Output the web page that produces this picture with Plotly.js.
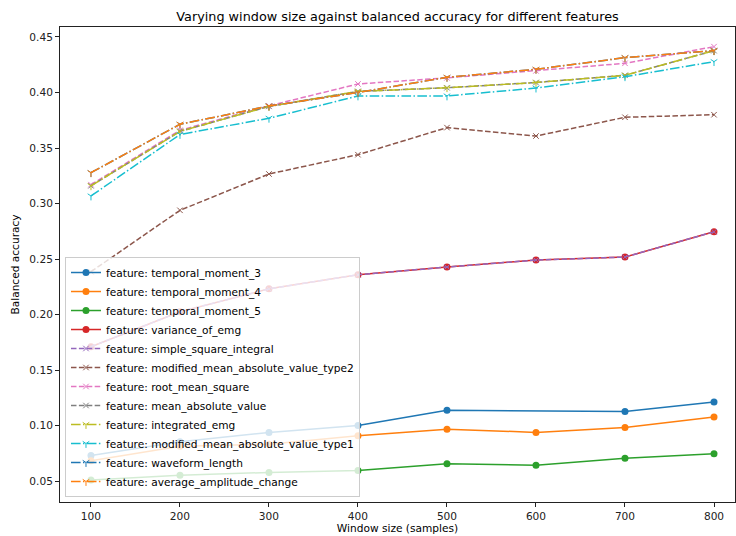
<!DOCTYPE html>
<html>
<head>
<meta charset="utf-8">
<script src="https://cdn.plot.ly/plotly-3.0.1.min.js"></script>
<style>html,body{margin:0;padding:0;background:#fff;}#chart{width:736px;height:536px;}</style>
</head>
<body>
<div id="chart"></div>
<script>
const windowSizes = [100, 200, 300, 400, 500, 600, 700, 800];

const featureNames = [
  "temporal_moment_3", "temporal_moment_4", "temporal_moment_5", "variance_of_emg",
  "simple_square_integral", "modified_mean_absolute_value_type2", "root_mean_square", "mean_absolute_value",
  "integrated_emg", "modified_mean_absolute_value_type1", "waveform_length", "average_amplitude_change"
];

const temporalMoment3 = [0.073, 0.0854, 0.0939, 0.1002, 0.1138, null, 0.1128, 0.1212];
const temporalMoment4 = [0.0683, 0.0815, 0.0833, 0.0908, 0.0968, 0.0939, 0.0984, 0.1077];
const temporalMoment5 = [0.0510, 0.0554, 0.0578, 0.0596, 0.0656, 0.0644, 0.0707, 0.0746];
const varianceOfEmg = [0.171, 0.2025, 0.2232, 0.2359, 0.2428, 0.2491, 0.2518, 0.2746];
const simpleSquareIntegral = [0.171, 0.2025, 0.2232, 0.2359, 0.2428, 0.2491, 0.2518, 0.2746];
const modifiedMav2 = [0.2386, 0.2939, 0.3266, 0.3440, 0.3684, 0.3608, 0.3777, 0.3800];
const rootMeanSquare = [0.3170, 0.3660, 0.3880, 0.4077, 0.4132, 0.4195, 0.4263, 0.4413];
const meanAbsoluteValue = [0.3160, 0.3650, 0.3875, 0.4010, 0.4043, 0.4090, 0.4155, 0.4377];
const integratedEmg = [0.3160, 0.3650, 0.3875, 0.4010, 0.4043, 0.4090, 0.4155, 0.4377];
const modifiedMav1 = [0.3068, 0.3622, 0.3768, 0.3969, 0.3969, 0.4040, 0.4142, 0.4278];
const waveformLength = [0.3278, 0.3714, 0.3878, 0.4000, 0.4137, 0.4209, 0.4314, 0.4377];
const averageAmplitudeChange = [0.3278, 0.3714, 0.3878, 0.4000, 0.4137, 0.4209, 0.4314, 0.4377];

const seriesValues = [
  temporalMoment3, temporalMoment4, temporalMoment5, varianceOfEmg,
  simpleSquareIntegral, modifiedMav2, rootMeanSquare, meanAbsoluteValue,
  integratedEmg, modifiedMav1, waveformLength, averageAmplitudeChange
];

const colors = ["#1f77b4", "#ff7f0e", "#2ca02c", "#d62728", "#9467bd", "#8c564b",
                "#e377c2", "#7f7f7f", "#bcbd22", "#17becf", "#1f77b4", "#ff7f0e"];
const dashes = ["solid", "solid", "solid", "solid",
                "5.5px,2.4px", "5.5px,2.4px", "5.5px,2.4px", "5.5px,2.4px",
                "9.6px,2.4px,1.5px,2.4px", "9.6px,2.4px,1.5px,2.4px", "9.6px,2.4px,1.5px,2.4px", "9.6px,2.4px,1.5px,2.4px"];
const symbols = ["circle", "circle", "circle", "circle",
                 "x-thin-open", "x-thin-open", "x-thin-open", "x-thin-open",
                 "y-down-open", "y-down-open", "y-down-open", "y-down-open"];

const traces = featureNames.map((name, i) => ({
  x: windowSizes,
  y: seriesValues[i],
  name: "feature: " + name,
  type: "scatter",
  mode: "lines+markers",
  connectgaps: true,
  line: {color: colors[i], width: 1.5, dash: dashes[i]},
  marker: {
    color: colors[i],
    symbol: symbols[i],
    size: i < 4 ? 7 : 5.5,
    line: {color: colors[i], width: i < 4 ? 0 : 1}
  }
}));

const baseFont = 10.6;
const layout = {
  width: 736, height: 536,
  margin: {l: 60, r: 1, t: 27, b: 34},
  paper_bgcolor: "#fff", plot_bgcolor: "#fff",
  font: {family: "DejaVu Sans", size: baseFont, color: "#000"},
  title: {text: "Varying window size against balanced accuracy for different features",
          font: {family: "DejaVu Sans", size: 12.8, color: "#000"},
          x: 0.5, xref: "paper", xanchor: "center", y: 0.970, yref: "container", yanchor: "middle"},
  xaxis: {
    range: [65.2, 823.6], tickvals: windowSizes, ticktext: windowSizes.map(String),
    showgrid: false, zeroline: false, showline: true, linecolor: "#222", linewidth: 1, mirror: true,
    ticks: "outside", ticklen: 4, tickcolor: "#222", tickfont: {size: baseFont, color: "#222"},
    title: {text: "Window size (samples)", font: {size: baseFont}, standoff: 3}
  },
  yaxis: {
    range: [0.0312, 0.459], tickvals: [0.05, 0.10, 0.15, 0.20, 0.25, 0.30, 0.35, 0.40, 0.45],
    tickformat: ".2f",
    showgrid: false, zeroline: false, showline: true, linecolor: "#222", linewidth: 1, mirror: true,
    ticks: "outside", ticklen: 4, tickcolor: "#222", tickfont: {size: baseFont, color: "#222"},
    title: {text: "Balanced accuracy", font: {size: baseFont}, standoff: 7}
  },
  legend: {
    x: 0.0074, y: 0.0105, xanchor: "left", yanchor: "bottom",
    bgcolor: "rgba(255,255,255,0.8)", bordercolor: "#cccccc", borderwidth: 1,
    font: {size: baseFont}, tracegroupgap: 0, itemwidth: 30
  },
  showlegend: true
};

Plotly.newPlot("chart", traces, layout, {displayModeBar: false, staticPlot: true});
</script>
</body>
</html>
